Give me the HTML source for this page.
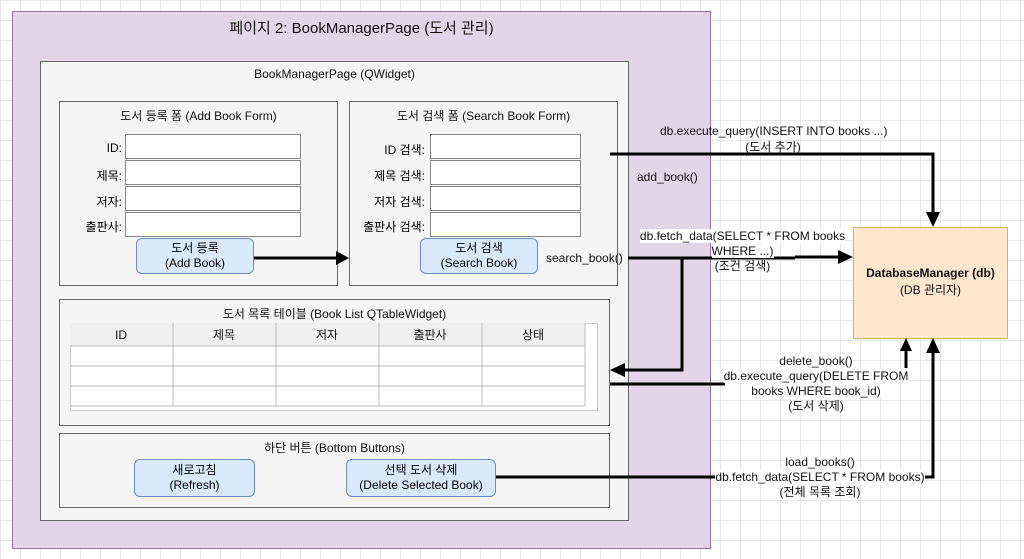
<!DOCTYPE html>
<html><head><meta charset="utf-8"><style>
body{margin:0;width:1024px;height:559px;overflow:hidden;font-family:"Liberation Sans","Noto Sans CJK KR",sans-serif;
background-color:#fff;background-image:linear-gradient(#e6e6e6 1px,transparent 1px),linear-gradient(90deg,#e6e6e6 1px,transparent 1px);background-size:20px 20px;}
.a{position:absolute;box-sizing:border-box}
.t{position:absolute;font-size:12px;color:#111;white-space:nowrap}
.c{text-align:center}
.inp{position:absolute;background:#fff;border:1px solid #888;box-sizing:border-box;height:25px}
.btn{position:absolute;background:#dae8fc;border:1px solid #6c8ebf;border-radius:6px;box-sizing:border-box;text-align:center;font-size:12px;line-height:15px;display:flex;align-items:center;justify-content:center}
.lbl{position:absolute;font-size:12px;text-align:right;width:60px}
</style></head><body>
<div class="a" style="left:12px;top:11px;width:699px;height:538px;background:#e1d5e7;border:1px solid #9673a6"></div>
<div class="t c" style="left:12px;width:699px;top:17px;font-size:15px">페이지 2: BookManagerPage (도서 관리)</div>
<div class="a" style="left:40px;top:61px;width:589px;height:460px;background:#f5f5f5;border:1px solid #666"></div>
<div class="t c" style="left:40px;width:589px;top:67px">BookManagerPage (QWidget)</div>

<div class="a" style="left:59px;top:101px;width:279px;height:185px;background:#f5f5f5;border:1px solid #666"></div>
<div class="t c" style="left:59px;width:279px;top:107px">도서 등록 폼 (Add Book Form)</div>
<div class="lbl" style="left:62px;top:141px">ID:</div>
<div class="lbl" style="left:62px;top:167px">제목:</div>
<div class="lbl" style="left:62px;top:193px">저자:</div>
<div class="lbl" style="left:62px;top:218px">출판사:</div>
<div class="inp" style="left:125px;top:134px;width:176px"></div>
<div class="inp" style="left:125px;top:160px;width:176px"></div>
<div class="inp" style="left:125px;top:186px;width:176px"></div>
<div class="inp" style="left:125px;top:212px;width:176px"></div>
<div class="btn" style="left:136px;top:238px;width:118px;height:36px">도서 등록<br>(Add Book)</div>

<div class="a" style="left:349px;top:101px;width:269px;height:185px;background:#f5f5f5;border:1px solid #666"></div>
<div class="t c" style="left:349px;width:269px;top:107px">도서 검색 폼 (Search Book Form)</div>
<div class="lbl" style="left:345px;width:80px;top:141px">ID 검색:</div>
<div class="lbl" style="left:345px;width:80px;top:167px">제목 검색:</div>
<div class="lbl" style="left:345px;width:80px;top:193px">저자 검색:</div>
<div class="lbl" style="left:345px;width:80px;top:218px">출판사 검색:</div>
<div class="inp" style="left:430px;top:134px;width:151px"></div>
<div class="inp" style="left:430px;top:160px;width:151px"></div>
<div class="inp" style="left:430px;top:186px;width:151px"></div>
<div class="inp" style="left:430px;top:212px;width:151px"></div>
<div class="btn" style="left:420px;top:238px;width:118px;height:36px">도서 검색<br>(Search Book)</div>

<div class="a" style="left:59px;top:299px;width:551px;height:127px;background:#f5f5f5;border:1px solid #666"></div>
<div class="t c" style="left:59px;width:551px;top:305px">도서 목록 테이블 (Book List QTableWidget)</div>
<div class="a" style="left:70px;top:323px;width:528px;height:88px;background:#fff;border:1px solid #ccc"></div>
<svg class="a" style="left:0;top:0" width="1024" height="559">
<rect x="70" y="323" width="515" height="23" fill="#f0f0f0"/>
<g stroke="#bbb" stroke-width="1" fill="none">
<line x1="70" y1="346" x2="585" y2="346"/><line x1="70" y1="366" x2="585" y2="366"/><line x1="70" y1="386" x2="585" y2="386"/><line x1="70" y1="406" x2="585" y2="406"/>
<line x1="173" y1="323" x2="173" y2="406"/><line x1="276" y1="323" x2="276" y2="406"/><line x1="379" y1="323" x2="379" y2="406"/><line x1="482" y1="323" x2="482" y2="406"/><line x1="585" y1="323" x2="585" y2="406"/>
</g>
<g font-family="Liberation Sans,Noto Sans CJK KR,sans-serif" font-size="12" text-anchor="middle" fill="#111">
<text x="121" y="339">ID</text><text x="224" y="339">제목</text><text x="327" y="339">저자</text><text x="430" y="339">출판사</text><text x="533" y="339">상태</text></g>
</svg>

<div class="a" style="left:59px;top:433px;width:551px;height:75px;background:#f5f5f5;border:1px solid #666"></div>
<div class="t c" style="left:59px;width:551px;top:439px">하단 버튼 (Bottom Buttons)</div>
<div class="btn" style="left:134px;top:459px;width:121px;height:38px">새로고침<br>(Refresh)</div>
<div class="btn" style="left:346px;top:459px;width:150px;height:38px">선택 도서 삭제<br>(Delete Selected Book)</div>

<div class="a" style="left:853px;top:227px;width:155px;height:112px;background:#ffe6cc;border:1px solid #d6b656"></div>
<div class="t c" style="left:853px;width:155px;top:266px;font-weight:bold">DatabaseManager (db)</div>
<div class="t c" style="left:853px;width:155px;top:281px">(DB 관리자)</div>

<svg class="a" style="left:0;top:0" width="1024" height="559">
<g stroke="#000" stroke-width="3" fill="none">
<line x1="254" y1="258" x2="338" y2="258"/>
<polyline points="610,154 933,154 933,213"/>
<line x1="628" y1="258" x2="795" y2="258"/>
<line x1="795" y1="257" x2="840" y2="257"/>
<polyline points="682,258 682,370 624,370"/>
<line x1="610" y1="384" x2="725" y2="384"/>
<line x1="906" y1="350" x2="906" y2="348"/>
<polyline points="496,477 933,477 933,352"/>
</g>
<g fill="#000">
<polygon points="349,258 336,251 336,265"/>
<polygon points="933,227 926,212 940,212"/>
<polygon points="853,257 838,250 838,264"/>
<polygon points="610,370 625,363 625,377"/>
<polygon points="906,338 900,351 912,351"/>
<polygon points="933,338 926,353 940,353"/>
</g>
<line x1="906" y1="349" x2="906" y2="368" stroke="#000" stroke-width="3"/>
</svg>

<div class="t c" style="left:660px;width:226px;top:124px;background:transparent">db.execute_query(INSERT INTO books ...)<br>(도서 추가)</div>
<div class="t" style="left:637px;top:170px">add_book()</div>
<div class="t" style="left:546px;top:251px">search_book()</div>
<div class="t c" style="left:630px;width:225px;top:229px;line-height:15px"><span style="background:#fff">db.fetch_data(SELECT * FROM books</span><br><span style="background:#fff">WHERE ...)</span><br>(조건 검색)</div>
<div class="t c" style="left:700px;width:232px;top:354px;line-height:15px"><span style="background:#fff">delete_book()</span><br><span style="background:#fff">db.execute_query(DELETE FROM</span><br><span style="background:#fff">books WHERE book_id)</span><br>(도서 삭제)</div>
<div class="t c" style="left:700px;width:240px;top:455px;line-height:15px"><span style="background:#fff">load_books()</span><br><span style="background:#fff">db.fetch_data(SELECT * FROM books)</span><br>(전체 목록 조회)</div>
</body></html>
